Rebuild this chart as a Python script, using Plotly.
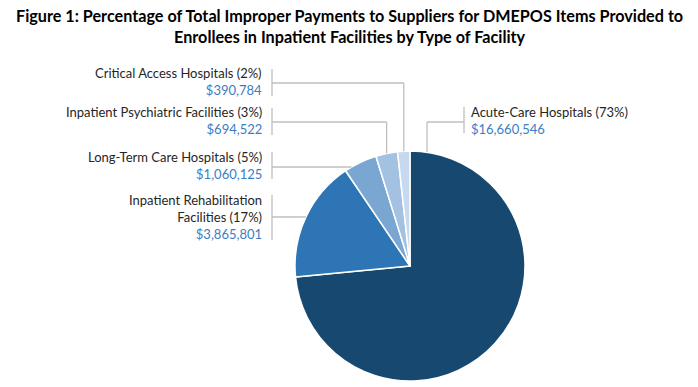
import math
import plotly.graph_objects as go

# ---- data ----
facilities = ["Acute-Care Hospitals", "Inpatient Rehabilitation<br>Facilities",
              "Long-Term Care Hospitals", "Inpatient Psychiatric Facilities",
              "Critical Access Hospitals"]
payments = [16660546, 3865801, 1060125, 694522, 390784]
colors = ["#17486f", "#2e75b6", "#7aa7d1", "#a3c1e1", "#c6d9ee"]

W, H = 698, 387
CX, CY, R = 410, 266, 115

def px(x):
    return x / W

def py(y):
    return 1 - y / H

total = sum(payments)
pcts = [round(v / total * 100) for v in payments]

fig = go.Figure(go.Pie(
    labels=[f.replace("<br>", " ") for f in facilities],
    values=payments,
    sort=False,
    direction="clockwise",
    rotation=0,
    marker=dict(colors=colors, line=dict(color="white", width=1.5)),
    textinfo="none",
    hoverinfo="label+value+percent",
    showlegend=False,
    domain=dict(x=[px(CX - R), px(CX + R)], y=[py(CY + R), py(CY - R)]),
))

# slice midpoint angles (clockwise from 12 o'clock)
mids = []
cum = 0
for v in payments:
    mids.append((cum + v / 2) / total * 2 * math.pi)
    cum += v

line_col = "#bfbfbf"
shapes = []
annotations = []
FONT = "Lato"
LBL_COL = "#262626"
AMT_COL = "#3b7dc4"
LBL_SIZE = 13

def seg(x0, y0, x1, y1):
    shapes.append(dict(type="line", xref="paper", yref="paper",
                       x0=px(x0), y0=py(y0), x1=px(x1), y1=py(y1),
                       line=dict(color=line_col, width=1.3)))

def circle_x_left(y):
    return CX - math.sqrt(max(R * R - (y - CY) ** 2, 0))

def circle_y_top(x):
    return CY - math.sqrt(max(R * R - (x - CX) ** 2, 0))

# label layout: (index, text center y, bar top, bar bottom, horizontal y, mode)
BAR_X = 272
left_specs = [
    (4, 81, 69, 96, 83, "drop"),
    (3, 121, 108, 135, 122, "drop"),
    (2, 166, 152, 179, 167, "flat"),
    (1, 217, 195, 240, 217, "flat"),
]
for i, ty, b0, b1, hy, mode in left_specs:
    seg(BAR_X, b0, BAR_X, b1)
    if mode == "drop":
        xm = CX + R * math.sin(mids[i])
        seg(BAR_X, hy, xm, hy)
        seg(xm, hy, xm, circle_y_top(xm))
    else:
        seg(BAR_X, hy, circle_x_left(hy), hy)
    annotations.append(dict(
        xref="paper", yref="paper", x=px(264), y=py(ty),
        xanchor="right", yanchor="middle", align="right", showarrow=False,
        text=f"{facilities[i]} ({pcts[i]}%)<br><span style='color:{AMT_COL}'>${payments[i]:,}</span>",
        font=dict(family=FONT, size=LBL_SIZE, color=LBL_COL)))

# Acute-care label (right side)
seg(464, 107, 464, 133)
seg(427, 122, 464, 122)
seg(427, 122, 427, circle_y_top(427))
annotations.append(dict(
    xref="paper", yref="paper", x=px(469), y=py(121),
    xanchor="left", yanchor="middle", align="left", showarrow=False,
    text=f"{facilities[0]} ({pcts[0]}%)<br><span style='color:{AMT_COL}'>${payments[0]:,}</span>",
    font=dict(family=FONT, size=LBL_SIZE, color=LBL_COL)))

# title
annotations.append(dict(
    xref="paper", yref="paper", x=0.5, y=py(26),
    xanchor="center", yanchor="middle", align="center", showarrow=False,
    text="<b>Figure 1: Percentage of Total Improper Payments to Suppliers for DMEPOS Items Provided to<br>Enrollees in Inpatient Facilities by Type of Facility</b>",
    font=dict(family=FONT, size=16.2, color="#000000")))

fig.update_layout(
    width=W, height=H,
    margin=dict(l=0, r=0, t=0, b=0),
    paper_bgcolor="white", plot_bgcolor="white",
    shapes=shapes, annotations=annotations,
)

fig.write_html("out.html",
               config={"displayModeBar": False},
               post_script="document.body.style.margin='0';document.body.style.overflow='hidden';")
